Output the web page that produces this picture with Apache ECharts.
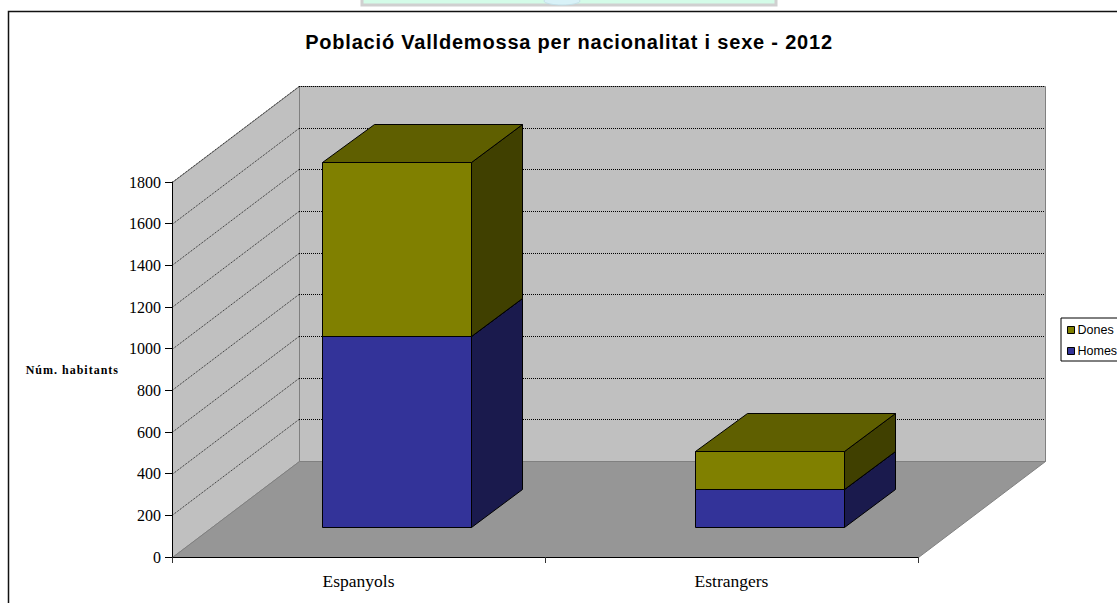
<!DOCTYPE html>
<html><head><meta charset="utf-8">
<style>html,body{margin:0;padding:0;background:#fff}#c{width:1117px;height:603px;overflow:hidden}</style>
<script src="https://cdn.jsdelivr.net/npm/echarts@6/dist/echarts.min.js"></script>
</head><body><div id="c"></div>
<script>
var categories = ['Espanyols', 'Estrangers'];
var homes = [915, 182];
var dones = [836, 182];
var yTicks = [0, 200, 400, 600, 800, 1000, 1200, 1400, 1600, 1800];

var WALL_DX = 127, WALL_DY = -96;     // depth of the 3D box
var FRONT_DX = 38, FRONT_DY = -30;    // bar's front face inside the box
var BAR_DX = 51.5, BAR_DY = -38;      // bar's depth
var BAR_RATIO = 0.399;
var TITLE = 'Població Valldemossa per nacionalitat i sexe - 2012';
var Y_NAME = 'Núm. habitants';

function s(v) { return Math.round(v) + 0.5; }
function poly(pts, fill, stroke, dash) {
  return { type: 'polygon', shape: { points: pts.map(function (p) { return [s(p[0]), s(p[1])]; }) },
    style: { fill: fill, stroke: stroke, lineWidth: 1, lineDash: dash } };
}
function seg(a, b, stroke, dash) {
  return { type: 'line', shape: { x1: Math.round(a[0]), y1: s(a[1]), x2: Math.round(b[0]), y2: s(b[1]) },
    style: { stroke: stroke, lineWidth: 1, lineDash: dash } };
}
function renderWalls(params, api) {
  var c = params.coordSys, x0 = c.x, x1 = c.x + c.width, yb = c.y + c.height, yt = c.y;
  var dx = WALL_DX, dy = WALL_DY;
  return { type: 'group', children: [
    poly([[x0, yb], [x0 + dx, yb + dy], [x0 + dx, yt + dy], [x0, yt]], '#c0c0c0', '#808080'),
    poly([[x0 + dx, yb + dy], [x1 + dx, yb + dy], [x1 + dx, yt + dy], [x0 + dx, yt + dy]], '#c0c0c0', '#808080'),
    poly([[x0, yb], [x1, yb], [x1 + dx, yb + dy], [x0 + dx, yb + dy]], '#969696', '#808080')
  ]};
}
function renderGrid(params, api) {
  var c = params.coordSys, p = api.coord([0, api.value(0)]);
  var y = p[1], x0 = c.x, x1 = c.x + c.width;
  if (api.value(0) === 0) return { type: 'group', children: [] };
  return { type: 'group', children: [
    seg([x0, y], [x0 + WALL_DX, y + WALL_DY], '#222222', [1, 1]),
    seg([x0 + WALL_DX, y + WALL_DY], [x1 + WALL_DX, y + WALL_DY], '#000000', [1, 1])
  ]};
}
function makeBar(front, top, side) {
  return function (params, api) {
    var cat = api.value(0), base = api.value(1), val = api.value(2);
    var w = api.size([1, 0])[0] * BAR_RATIO;
    var a = api.coord([cat, base]), b = api.coord([cat, base + val]);
    var l = a[0] - w / 2 + FRONT_DX, r = a[0] + w / 2 + FRONT_DX;
    var yb = a[1] + FRONT_DY, yt = b[1] + FRONT_DY;
    return { type: 'group', children: [
      poly([[r, yb], [r + BAR_DX, yb + BAR_DY], [r + BAR_DX, yt + BAR_DY], [r, yt]], side, '#000'),
      poly([[l, yt], [r, yt], [r + BAR_DX, yt + BAR_DY], [l + BAR_DX, yt + BAR_DY]], top, '#000'),
      poly([[l, yb], [r, yb], [r, yt], [l, yt]], front, '#000')
    ]};
  };
}
var chart = echarts.init(document.getElementById('c'), null, { renderer: 'svg' });
chart.setOption({
  animation: false,
  backgroundColor: '#fff',
  title: {
    text: TITLE,
    left: 564, top: 27, textAlign: 'center',
    textStyle: { fontFamily: 'Liberation Sans', fontWeight: 'bold', fontSize: 20, color: '#000' }
  },
  legend: {
    data: ['Dones', 'Homes'], orient: 'vertical', left: 1061, top: 318,
    padding: [5.5, 6, 3.5, 6], itemWidth: 7, itemHeight: 7, itemGap: 8,
    backgroundColor: '#fff', borderColor: '#000', borderWidth: 1, borderRadius: 0,
    icon: 'rect',
    itemStyle: { borderColor: '#000', borderWidth: 1 },
    textStyle: { fontFamily: 'Liberation Sans', fontSize: 12.5, color: '#000', padding: [0, 0, 0, -2] }
  },
  grid: { left: 172, top: 182, width: 746, height: 375, outerBoundsMode: 'none' },
  xAxis: {
    type: 'category', data: categories, z: 5,
    axisLine: { show: true, lineStyle: { color: '#000' } },
    axisTick: { show: true, length: 6, lineStyle: { color: '#333' } },
    axisLabel: { fontFamily: 'Liberation Serif', fontSize: 17.5, color: '#000', margin: 15 }
  },
  yAxis: {
    type: 'value', min: 0, max: 1800, interval: 200, z: 5,
    name: Y_NAME, nameLocation: 'middle', nameRotate: 0, nameGap: 53,
    nameTextStyle: { fontFamily: 'Liberation Serif', fontWeight: 'bold', fontSize: 12, color: '#000' },
    axisLine: { show: true, lineStyle: { color: '#000' } },
    axisTick: { show: true, length: 7, lineStyle: { color: '#000' } },
    splitLine: { show: false },
    axisLabel: { fontFamily: 'Liberation Serif', fontSize: 16, color: '#000', margin: 11, formatter: function (v) { return String(v); } }
  },
  graphic: { elements: [
    { type: 'rect', z: -10, silent: true, shape: { x: 362, y: -2, width: 414, height: 7 }, style: { fill: '#d4fce8', stroke: '#d0d0d0', lineWidth: 3 } },
    { type: 'ellipse', z: -9, silent: true, shape: { cx: 562, cy: 1, rx: 18, ry: 4 }, style: { fill: '#d8f2f8', stroke: '#c4dfe8', lineWidth: 1 } },
    { type: 'rect', z: -8, silent: true, shape: { x: 8.5, y: 11.5, width: 1200, height: 700 }, style: { fill: 'transparent', stroke: '#111', lineWidth: 1.5 } }
  ]},
  series: [
    { type: 'custom', name: 'walls', silent: true, data: [[0, 0]], encode: { x: 0, y: 1 }, renderItem: renderWalls, z: 1 },
    { type: 'custom', name: 'grid', silent: true, data: yTicks.map(function (v) { return [v]; }), encode: { y: 0 }, renderItem: renderGrid, z: 2 },
    { type: 'custom', name: 'Homes', itemStyle: { color: '#333399' }, z: 3, encode: { x: 0, y: 1 },
      data: homes.map(function (v, i) { return [i, 0, v]; }), renderItem: makeBar('#333399', '#26266f', '#1a1a4d') },
    { type: 'custom', name: 'Dones', itemStyle: { color: '#808000' }, z: 4, encode: { x: 0, y: 1 },
      data: dones.map(function (v, i) { return [i, homes[i], v]; }), renderItem: makeBar('#808000', '#5f5f00', '#404000') }
  ]
});
// The reference's title and axis name are slightly letter-spaced.
document.querySelectorAll('#c text').forEach(function (t) {
  if (t.textContent === TITLE) t.style.letterSpacing = '0.8px';
  if (t.textContent === Y_NAME) t.style.letterSpacing = '1px';
});
</script></body></html>
